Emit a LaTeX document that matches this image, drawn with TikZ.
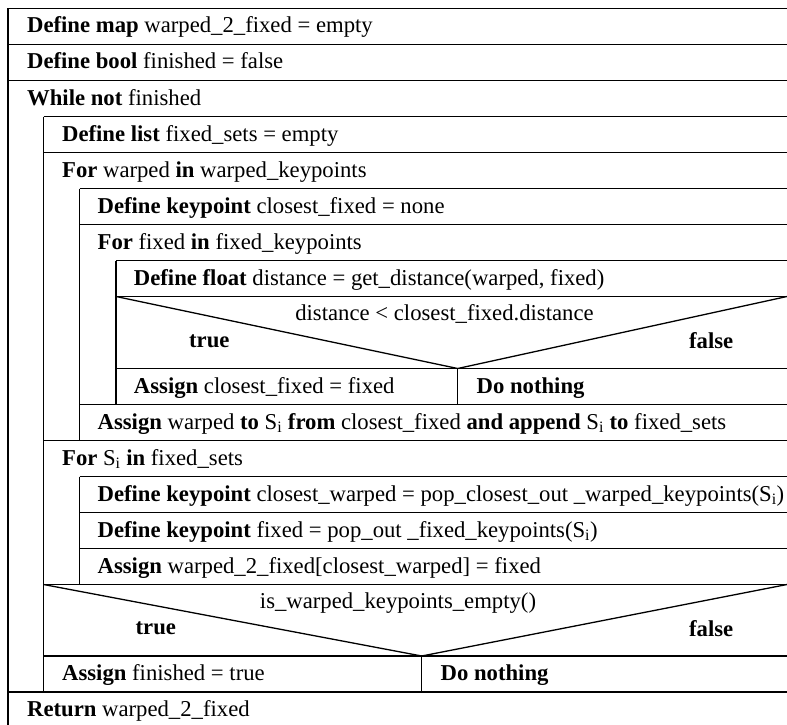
\documentclass[tikz,border=0pt]{standalone}
\usepackage{fontspec}
\setmainfont{Liberation Serif}
\begin{document}
\begin{tikzpicture}[x=1pt,y=-1pt,line width=1.3pt]
\tikzset{
  lbl/.style={anchor=base west,inner sep=0pt,font=\fontsize{22.7}{27}\selectfont},
  clbl/.style={anchor=base,inner sep=0pt,font=\fontsize{22.7}{27}\selectfont},
  nsline/.style={draw=black,line width=1.3pt}
}
\useasboundingbox (0,0) rectangle (787,725);
% coordinates for structure
\def\R{790}
% left border
\draw[nsline] (8,8.5) -- (8,725);
% horizontal lines
\foreach \y in {8.5,44.5,80.5,692} \draw[nsline] (8,\y) -- (\R,\y);
\foreach \y in {116.5,152.5,440.5,584.5,656} \draw[nsline] (43.5,\y) -- (\R,\y);
\foreach \y in {188.5,224.5,404.5,476.5,512.5,548.5} \draw[nsline] (79.5,\y) -- (\R,\y);
\foreach \y in {260.5,296.5,368.5} \draw[nsline] (116,\y) -- (\R,\y);
% inner verticals
\draw[nsline] (43.5,116.5) -- (43.5,692);
\draw[nsline] (79.5,188.5) -- (79.5,440.5);
\draw[nsline] (79.5,476.5) -- (79.5,584.5);
\draw[nsline] (116,260.5) -- (116,404.5);
% decision 1
\coordinate (c1l) at (116,296.5);
\coordinate (c1m) at (457.7,368.5);
\coordinate (c1r) at (787,296.5);
\draw[nsline] (c1l) -- (c1m) -- (c1r);
\draw[nsline] (c1m) -- (457.7,404.5);
% decision 2
\coordinate (c2l) at (43.5,584.5);
\coordinate (c2m) at (421.7,656);
\coordinate (c2r) at (787,584.5);
\draw[nsline] (c2l) -- (c2m) -- (c2r);
\draw[nsline] (c2m) -- (421.7,692);
% texts
\node[lbl] (t1) at (26.5,33) {\textbf{Define map} warped\_2\_fixed = empty};
\node[lbl] (t2) at (26.5,69) {\textbf{Define bool} finished = false};
\node[lbl] (t3) at (26.5,105) {\textbf{While not} finished};
\node[lbl] (t4) at (61.5,141) {\textbf{Define list} fixed\_sets = empty};
\node[lbl] (t5) at (61.5,177) {\textbf{For} warped \textbf{in} warped\_keypoints};
\node[lbl] (t6) at (97,213) {\textbf{Define keypoint} closest\_fixed = none};
\node[lbl] (t7) at (97,249) {\textbf{For} fixed \textbf{in} fixed\_keypoints};
\node[lbl] (t8) at (133.3,285) {\textbf{Define float} distance = get\_distance(warped, fixed)};
\node[clbl] (c1) at (444.5,320.5) {distance < closest\_fixed.distance};
\node[lbl] (c1t) at (188.5,347.5) {\textbf{true}};
\node[lbl] (c1f) at (688.5,348.5) {\textbf{false}};
\node[lbl] (t9) at (133.3,393) {\textbf{Assign} closest\_fixed = fixed};
\node[lbl] (t10) at (476,393) {\textbf{Do nothing}};
\node[lbl] (t11) at (97,429) {\textbf{Assign} warped \textbf{to} S\textsubscript{i} \textbf{from} closest\_fixed \textbf{and append} S\textsubscript{i} \textbf{to} fixed\_sets};
\node[lbl] (t12) at (61.5,465) {\textbf{For} S\textsubscript{i} \textbf{in} fixed\_sets};
\node[lbl] (t13) at (97,501) {\textbf{Define keypoint} closest\_warped = pop\_closest\_out \_warped\_keypoints(S\textsubscript{i})};
\node[lbl] (t14) at (97,537) {\textbf{Define keypoint} fixed = pop\_out \_fixed\_keypoints(S\textsubscript{i})};
\node[lbl] (t15) at (97,573) {\textbf{Assign} warped\_2\_fixed[closest\_warped] = fixed};
\node[clbl] (c2) at (398,608.5) {is\_warped\_keypoints\_empty()};
\node[lbl] (c2t) at (135,634) {\textbf{true}};
\node[lbl] (c2f) at (688.5,636) {\textbf{false}};
\node[lbl] (t16) at (61.5,680.5) {\textbf{Assign} finished = true};
\node[lbl] (t17) at (440,680.5) {\textbf{Do nothing}};
\node[lbl] (t18) at (26.5,716.5) {\textbf{Return} warped\_2\_fixed};
\end{tikzpicture}
\end{document}
